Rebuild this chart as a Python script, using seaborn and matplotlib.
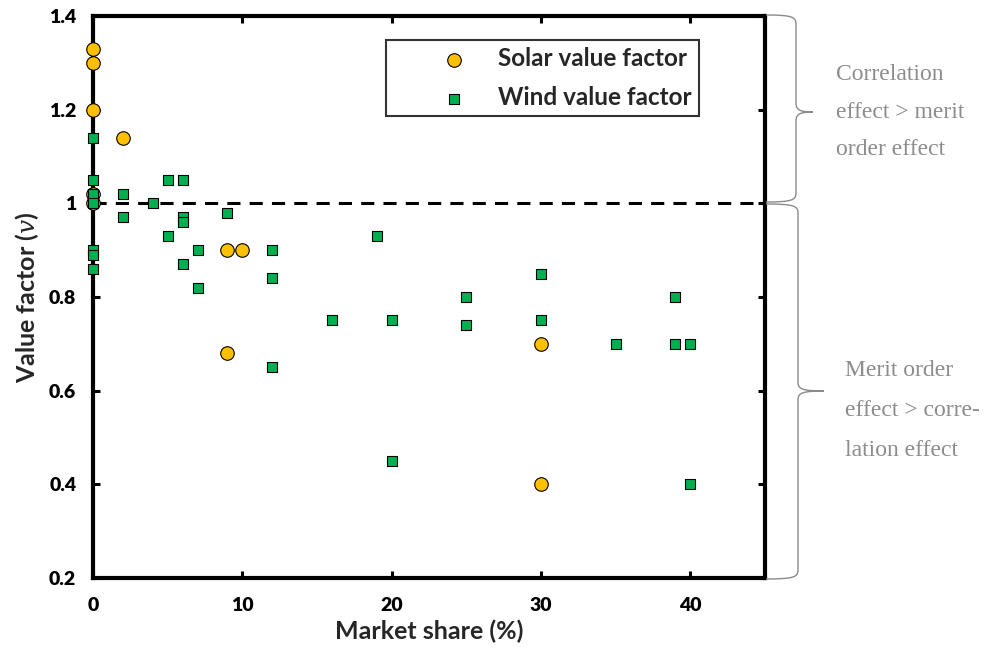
import matplotlib
matplotlib.use("Agg")
import matplotlib.pyplot as plt
from matplotlib.path import Path
from matplotlib.patches import PathPatch
from matplotlib.transforms import Affine2D
import seaborn as sns
import pandas as pd

# Solar value factors vs. market share (%)
solar_share = [0, 0, 0, 0, 0, 2, 9, 10, 9, 30, 30]
solar_value = [1.33, 1.30, 1.20, 1.02, 1.00, 1.14, 0.90, 0.90, 0.68, 0.70, 0.40]

# Wind value factors vs. market share (%)
wind_share = [0, 0, 0, 0, 0, 0, 0,
              2, 2, 4, 5, 5, 6, 6, 6, 6, 7, 7, 9, 12, 12, 12,
              16, 19, 20, 20, 25, 25, 30, 30, 35, 39, 39, 40, 40]
wind_value = [1.14, 1.05, 1.02, 1.00, 0.90, 0.89, 0.86,
              1.02, 0.97, 1.00, 1.05, 0.93, 1.05, 0.97, 0.96, 0.87, 0.90, 0.82, 0.98, 0.90, 0.84, 0.65,
              0.75, 0.93, 0.75, 0.45, 0.80, 0.74, 0.85, 0.75, 0.70, 0.80, 0.70, 0.70, 0.40]

x_ticks = [0, 10, 20, 30, 40]
y_ticks = [0.2, 0.4, 0.6, 0.8, 1.0, 1.2, 1.4]
y_tick_labels = ["0.2", "0.4", "0.6", "0.8", "1", "1.2", "1.4"]

solar_df = pd.DataFrame({"share": solar_share, "value": solar_value})
wind_df = pd.DataFrame({"share": wind_share, "value": wind_value})

sns.set_theme(style="white")
plt.rcParams["font.family"] = ["Lato", "DejaVu Sans"]
plt.rcParams["mathtext.fontset"] = "custom"
plt.rcParams["mathtext.it"] = "DejaVu Serif:italic"

W, H = 990, 655
fig = plt.figure(figsize=(W / 100, H / 100), dpi=100)
ax = fig.add_axes([93 / W, 1 - 578 / H, (765 - 93) / W, (578 - 16) / H])

# reference line where the value factor equals one
ax.axhline(1.0, color="black", lw=2.2, dashes=(4.3, 3.0), zorder=1)

sns.scatterplot(data=solar_df, x="share", y="value", ax=ax, marker="o", s=95,
                color="#FFC000", edgecolor="black", linewidth=0.8,
                label="Solar value factor", zorder=3, clip_on=False)
sns.scatterplot(data=wind_df, x="share", y="value", ax=ax, marker="s", s=60,
                color="#00B050", edgecolor="black", linewidth=0.8,
                label="Wind value factor", zorder=4, clip_on=False)

ax.set_xlim(0, 45)
ax.set_ylim(0.2, 1.4)
ax.set_xticks(x_ticks)
ax.set_xticklabels([str(t) for t in x_ticks])
ax.set_yticks(y_ticks)
ax.set_yticklabels(y_tick_labels)

for sp in ax.spines.values():
    sp.set_visible(True)
    sp.set_color("black")
    sp.set_linewidth(3.0)
    sp.set_zorder(2)

ax.tick_params(axis="both", which="major", direction="in", length=5, width=2.2,
               top=True, right=True, bottom=True, left=True,
               labelsize=14, color="black", labelcolor="black")
ax.tick_params(axis="y", pad=12)
ax.tick_params(axis="x", pad=14)
for lab in ax.get_xticklabels() + ax.get_yticklabels():
    lab.set_fontweight("heavy")

ax.set_xlabel("Market share (%)", fontsize=18, fontweight="bold", labelpad=4)
ax.set_ylabel(r"Value factor ($\it{v}$)", fontsize=18, fontweight="bold", labelpad=6)

leg = ax.legend(loc="upper left", bbox_to_anchor=((386 - 93) / 672, 1 - (40 - 16) / 562),
                prop={"weight": "bold", "size": 17.5}, frameon=True,
                fancybox=False, borderpad=0.3, handlelength=5.0, handletextpad=-0.7,
                labelspacing=0.65, borderaxespad=0)
leg.get_frame().set_edgecolor("black")
leg.get_frame().set_linewidth(1.5)

# curly braces on the right, in pixel coordinates of the figure
px = Affine2D().scale(1 / W, -1 / H).translate(0, 1) + fig.transFigure


def brace(x0, y_top, y_bot, x_line, x_tip, y_tip):
    verts = [
        (x0, y_top), (x_line - 4, y_top), (x_line, y_top + 2), (x_line, y_top + 9),
        (x_line, y_tip - 9),
        (x_line, y_tip - 2), (x_line + 4, y_tip), (x_tip, y_tip),
        (x_line + 4, y_tip), (x_line, y_tip + 2), (x_line, y_tip + 9),
        (x_line, y_bot - 9),
        (x_line, y_bot - 2), (x_line - 4, y_bot), (x0, y_bot),
    ]
    codes = [Path.MOVETO, Path.CURVE4, Path.CURVE4, Path.CURVE4,
             Path.LINETO,
             Path.CURVE4, Path.CURVE4, Path.CURVE4,
             Path.CURVE4, Path.CURVE4, Path.CURVE4,
             Path.LINETO,
             Path.CURVE4, Path.CURVE4, Path.CURVE4]
    fig.add_artist(PathPatch(Path(verts, codes), transform=px, fill=False,
                             edgecolor="#8a8a8a", lw=1.0))


brace(766, 15, 202, 796, 813, 112)
brace(766, 204, 579, 798, 824, 391)

serif = ["Liberation Serif", "DejaVu Serif"]
for i, line in enumerate(["Correlation", "effect > merit", "order effect"]):
    fig.text(836 / W, 1 - (74 + 38 * i) / H, line, family=serif, fontsize=17,
             color="#8c8c8c", va="center", ha="left")
for i, line in enumerate(["Merit order", "effect > corre-", "lation effect"]):
    fig.text(845 / W, 1 - (371 + 40 * i) / H, line, family=serif, fontsize=17,
             color="#8c8c8c", va="center", ha="left")

fig.savefig("out.png", dpi=100)
